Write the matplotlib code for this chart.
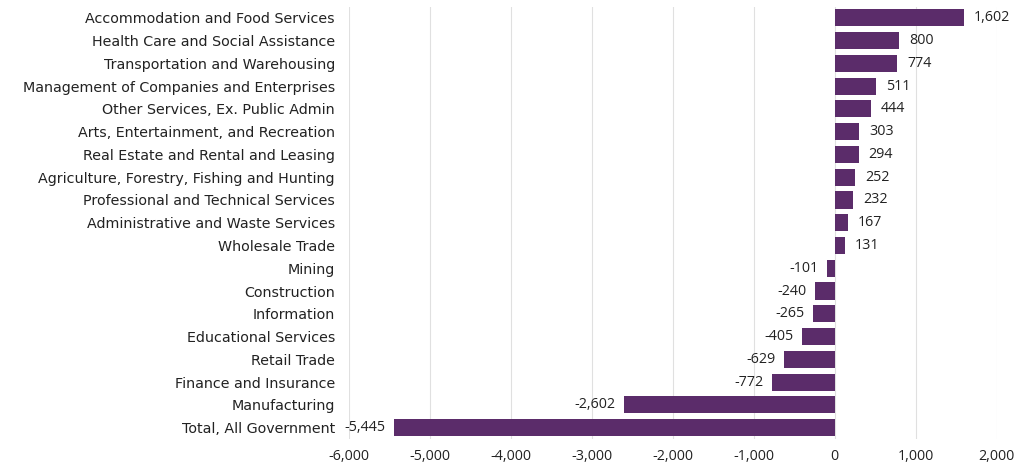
import numpy as np
import matplotlib.pyplot as plt
from matplotlib.ticker import FuncFormatter

plt.rcParams['font.family'] = ['Open Sans', 'DejaVu Sans']

industries = [
    'Accommodation and Food Services',
    'Health Care and Social Assistance',
    'Transportation and Warehousing',
    'Management of Companies and Enterprises',
    'Other Services, Ex. Public Admin',
    'Arts, Entertainment, and Recreation',
    'Real Estate and Rental and Leasing',
    'Agriculture, Forestry, Fishing and Hunting',
    'Professional and Technical Services',
    'Administrative and Waste Services',
    'Wholesale Trade',
    'Mining',
    'Construction',
    'Information',
    'Educational Services',
    'Retail Trade',
    'Finance and Insurance',
    'Manufacturing',
    'Total, All Government',
]
change = [1602, 800, 774, 511, 444, 303, 294, 252, 232, 167, 131,
          -101, -240, -265, -405, -629, -772, -2602, -5445]

bar_color = '#5b2c6a'
text_color = '#222222'
fs = 10.3

fig = plt.figure(figsize=(10.17, 4.65), dpi=100)
ax = fig.add_axes([0.343, 0.056, 0.637, 0.930])

y = np.arange(len(industries))
ax.barh(y, change, height=0.75, color=bar_color, zorder=3)

for yi, v in zip(y, change):
    if v >= 0:
        ax.annotate(f'{v:,}', (v, yi), xytext=(7, 0), textcoords='offset points',
                    ha='left', va='center', fontsize=fs, color=text_color)
    else:
        ax.annotate(f'{v:,}', (v, yi), xytext=(-6, 0), textcoords='offset points',
                    ha='right', va='center', fontsize=fs, color=text_color)

ax.set_xlim(-6000, 2000)
ax.set_ylim(len(industries) - 0.5, -0.5)
ax.set_xticks(np.arange(-6000, 2001, 1000))
ax.xaxis.set_major_formatter(FuncFormatter(lambda v, p: f'{int(v):,}'))
ax.set_yticks(y)
ax.set_yticklabels(industries, family=['DejaVu Sans'], fontsize=10.4)
ax.tick_params(axis='both', length=0, labelsize=fs, colors=text_color)
ax.tick_params(axis='y', pad=10)
ax.tick_params(axis='x', pad=7)
ax.grid(axis='x', color='#e0e0e0', linewidth=0.8, zorder=0)
for s in ax.spines.values():
    s.set_visible(False)

fig.savefig('out.png', dpi=100)
